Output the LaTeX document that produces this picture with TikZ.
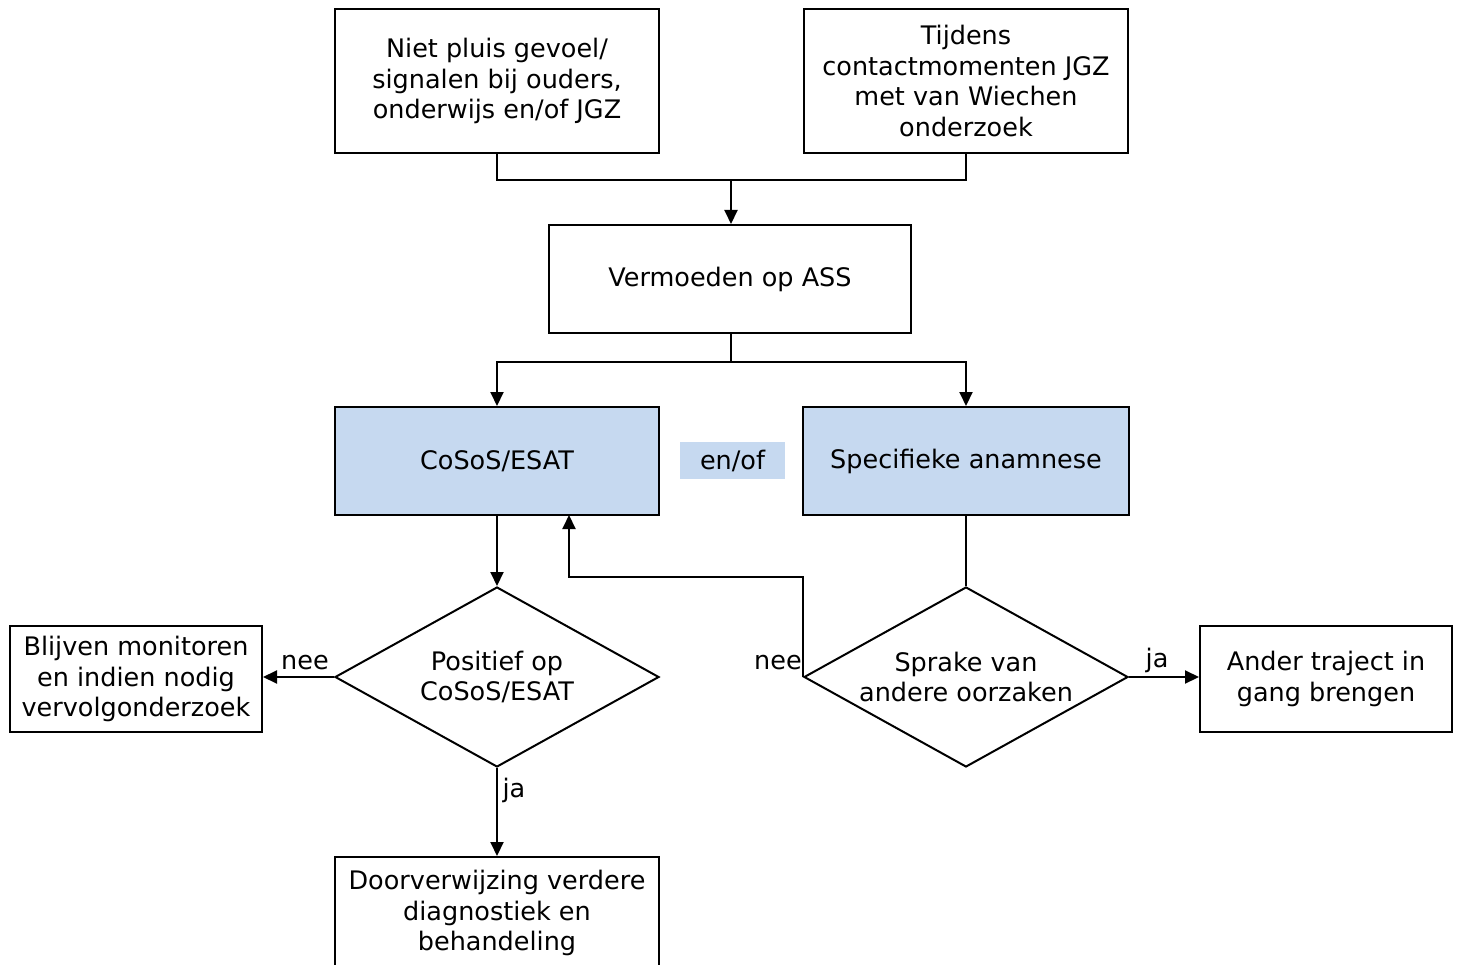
\documentclass[tikz,border=0pt]{standalone}
\usepackage{fontspec}
\setmainfont{DejaVu Sans}
\usetikzlibrary{arrows.meta,shapes.geometric}
\definecolor{boxblue}{RGB}{198,217,240}
\begin{document}
\begin{tikzpicture}[x=1pt,y=-1pt,
  every node/.style={font=\fontsize{25.5}{30.5}\selectfont, text=black},
  box/.style={draw, line width=2pt, align=center, inner sep=0pt},
  bluebox/.style={box, fill=boxblue},
  diam/.style={draw, line width=2pt, diamond, inner sep=0pt, minimum width=324pt, minimum height=180pt},
  conn/.style={line width=2pt},
  arr/.style={line width=2pt, -{Triangle[length=14pt,width=13pt]}},
  lbl/.style={inner sep=0pt}]
\useasboundingbox (0,0) rectangle (1458,965);
\clip (0,0) rectangle (1458,965);
\fill[white] (0,0) rectangle (1458,965);

\node[box, minimum width=324pt, minimum height=144pt] (a) at (497,81) {Niet pluis gevoel/\\signalen bij ouders,\\onderwijs en/of JGZ};
\node[box, minimum width=324pt, minimum height=144pt] (b) at (966,81) {Tijdens\\contactmomenten JGZ\\met van Wiechen\\onderzoek};
\node[box, minimum width=362pt, minimum height=108pt] (v) at (730,279) {Vermoeden op ASS};
\node[bluebox, minimum width=324pt, minimum height=108pt] (c) at (497,461) {CoSoS/ESAT};
\node[bluebox, minimum width=326pt, minimum height=108pt] (s) at (966,461) {Specifieke anamnese};
\node[fill=boxblue, inner sep=0pt, minimum width=105pt, minimum height=37pt] (eo) at (732.5,460.5) {en/of};

\node[diam] (d1) at (497,677) {};
\node[align=center] (d1t) at (d1.center) {Positief op\\CoSoS/ESAT};
\node[diam] (d2) at (966,677) {};
\node[align=center] (d2t) at (d2.center) {Sprake van\\andere oorzaken};

\node[box, minimum width=252pt, minimum height=106pt] (bl) at (136,679) {Blijven monitoren\\en indien nodig\\vervolgonderzoek};
\node[box, minimum width=252pt, minimum height=106pt] (an) at (1326,679) {Ander traject in\\gang brengen};
\node[box, minimum width=324pt, minimum height=112pt] (dv) at (497,913) {Doorverwijzing verdere\\diagnostiek en\\behandeling};

% top merge
\coordinate (m1) at (731,180);
\draw[conn] (a.south) -- (a.south |- m1) -- (b.south |- m1) -- (b.south);
\draw[arr] (m1) -- (m1 |- v.north);

% split
\coordinate (m2) at (731,362);
\draw[conn] (m2 |- v.south) -- (m2);
\draw[arr] (m2) -| (c.north);
\draw[arr] (m2) -| (s.north);

% down to diamonds
\draw[arr] (c.south) -- (d1.north);
\draw[conn] (s.south) -- (d2.north);

% feedback nee
\coordinate (k) at (804,577);
\coordinate (back) at (569,515);
\draw[arr] (d2.west) -- (d2.west |- k) -| (back);

% outcomes
\draw[arr] (d1.west) -- (d1.west -| bl.east);
\draw[arr] (d2.east) -- (d2.east -| an.west);
\draw[arr] (d1.south) -- (dv.north);

% labels
\node[lbl] (n1) at (305,663) {nee};
\node[lbl] (n2) at (778,663) {nee};
\node[lbl] (j1) at (514,790) {ja};
\node[lbl] (j2) at (1157,660) {ja};
\end{tikzpicture}
\end{document}
